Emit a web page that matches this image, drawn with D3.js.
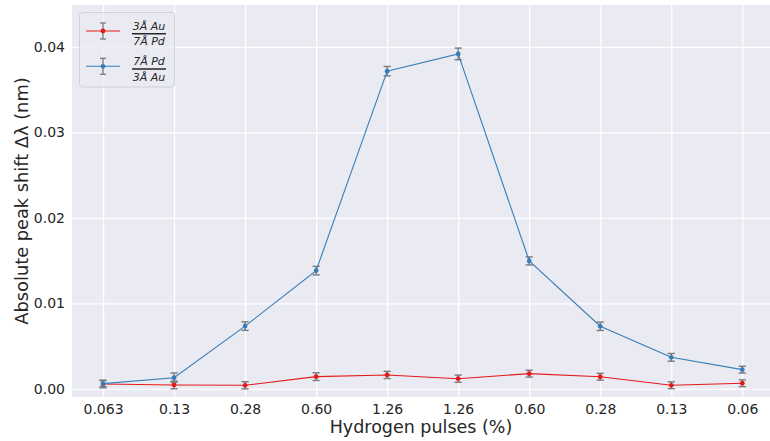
<!DOCTYPE html>
<html>
<head>
<meta charset="utf-8">
<script src="https://cdn.jsdelivr.net/npm/d3@7"></script>
<style>
  html, body { margin: 0; padding: 0; background: #ffffff; }
  svg { display: block; font-family: "DejaVu Sans", sans-serif; }
</style>
</head>
<body>
<svg id="chart" width="770" height="441"></svg>
<script>
// Hydrogen pulse sequence (up then down) used as x categories
const pulseLabels = ["0.063", "0.13", "0.28", "0.60", "1.26", "1.26", "0.60", "0.28", "0.13", "0.06"];

// Absolute peak shift (nm) for each multilayer stack
const auOverPd = [0.00058, 0.00047, 0.00043, 0.00144, 0.00164, 0.00120, 0.00179, 0.00143, 0.00043, 0.00067];
const auOverPdErr = [0.00045, 0.00045, 0.00042, 0.00045, 0.00042, 0.00042, 0.00040, 0.00040, 0.00040, 0.00040];

const pdOverAu = [0.00062, 0.00132, 0.00735, 0.01384, 0.03716, 0.03918, 0.01497, 0.00733, 0.00370, 0.00226];
const pdOverAuErr = [0.00035, 0.00055, 0.00050, 0.00050, 0.00055, 0.00068, 0.00047, 0.00049, 0.00045, 0.00040];

const yTicks = [0.00, 0.01, 0.02, 0.03, 0.04];

const series = [
  { num: "3Å Au", den: "7Å Pd", values: auOverPd, errors: auOverPdErr, color: "#e41a1c" },
  { num: "7Å Pd", den: "3Å Au", values: pdOverAu, errors: pdOverAuErr, color: "#377eb8" }
];

const svg = d3.select("#chart");
const plot = { left: 72, top: 5, right: 770, bottom: 397 };

const x = d3.scaleLinear().domain([-0.437, 9.39]).range([plot.left, plot.right]);
const y = d3.scaleLinear().domain([-0.00094, 0.0449]).range([plot.bottom, plot.top]);

// Axes background (seaborn darkgrid style)
svg.append("rect")
  .attr("x", plot.left).attr("y", plot.top)
  .attr("width", plot.right - plot.left).attr("height", plot.bottom - plot.top)
  .attr("fill", "#eaeaf2");

// Grid lines drawn through d3 axes
const xAxis = d3.axisBottom(x)
  .tickValues(d3.range(pulseLabels.length))
  .tickFormat(i => pulseLabels[i])
  .tickSize(-(plot.bottom - plot.top))
  .tickPadding(7);
const yAxis = d3.axisLeft(y)
  .tickValues(yTicks)
  .tickFormat(d3.format(".2f"))
  .tickSize(-(plot.right - plot.left))
  .tickPadding(7);

const gx = svg.append("g").attr("transform", `translate(0,${plot.bottom})`).call(xAxis);
const gy = svg.append("g").attr("transform", `translate(${plot.left},0)`).call(yAxis);
[gx, gy].forEach(g => {
  g.select(".domain").remove();
  g.selectAll(".tick line").attr("stroke", "#ffffff").attr("stroke-width", 1.3);
  g.selectAll(".tick text").attr("fill", "#262626").attr("font-size", 14)
    .attr("font-family", "DejaVu Sans, sans-serif");
});

// Series: error bars, connecting line, markers
const capW = 3.6;
series.forEach(s => {
  const g = svg.append("g");
  const eb = g.selectAll("g.eb").data(s.values).join("g").attr("class", "eb");
  eb.append("line")
    .attr("x1", (d, i) => x(i)).attr("x2", (d, i) => x(i))
    .attr("y1", (d, i) => y(d - s.errors[i])).attr("y2", (d, i) => y(d + s.errors[i]))
    .attr("stroke", "#7a7a7a").attr("stroke-width", 1.4);
  [-1, 1].forEach(sign => {
    eb.append("line")
      .attr("x1", (d, i) => x(i) - capW).attr("x2", (d, i) => x(i) + capW)
      .attr("y1", (d, i) => y(d + sign * s.errors[i])).attr("y2", (d, i) => y(d + sign * s.errors[i]))
      .attr("stroke", "#7a7a7a").attr("stroke-width", 1.4);
  });
  g.append("path")
    .datum(s.values)
    .attr("fill", "none").attr("stroke", s.color).attr("stroke-width", 1.1)
    .attr("d", d3.line().x((d, i) => x(i)).y(d => y(d)));
  g.selectAll("circle").data(s.values).join("circle")
    .attr("cx", (d, i) => x(i)).attr("cy", d => y(d)).attr("r", 2.4)
    .attr("fill", s.color);
});

// Axis titles
svg.append("text")
  .attr("x", (plot.left + plot.right) / 2).attr("y", 433)
  .attr("text-anchor", "middle").attr("font-size", 17.5).attr("fill", "#262626")
  .text("Hydrogen pulses (%)");
svg.append("text")
  .attr("transform", `translate(28,${(plot.top + plot.bottom) / 2}) rotate(-90)`)
  .attr("text-anchor", "middle").attr("font-size", 17.8).attr("fill", "#262626")
  .text("Absolute peak shift Δλ (nm)");

// Legend with stacked-fraction labels
const legend = svg.append("g");
legend.append("rect")
  .attr("x", 79.5).attr("y", 12.5).attr("width", 95).attr("height", 74.5)
  .attr("rx", 3).attr("fill", "#eaeaf2").attr("fill-opacity", 0.8)
  .attr("stroke", "#d0d0d8").attr("stroke-width", 1);

series.forEach((s, k) => {
  const cy = 31 + k * 35.3;
  const hx = 103;
  const g = legend.append("g");
  g.append("line").attr("x1", hx).attr("x2", hx).attr("y1", cy - 8).attr("y2", cy + 8)
    .attr("stroke", "#7a7a7a").attr("stroke-width", 1.3);
  [-8, 8].forEach(dy => g.append("line")
    .attr("x1", hx - 3).attr("x2", hx + 3).attr("y1", cy + dy).attr("y2", cy + dy)
    .attr("stroke", "#7a7a7a").attr("stroke-width", 1.3));
  g.append("line").attr("x1", 86).attr("x2", 120).attr("y1", cy).attr("y2", cy)
    .attr("stroke", s.color).attr("stroke-width", 1.1);
  g.append("circle").attr("cx", hx).attr("cy", cy).attr("r", 2.4).attr("fill", s.color);

  const fx = 149;
  g.append("text").attr("x", fx).attr("y", cy - 1.2)
    .attr("text-anchor", "middle").attr("font-size", 11).attr("font-style", "italic")
    .attr("fill", "#262626").text(s.num);
  g.append("line").attr("x1", 132).attr("x2", 166).attr("y1", cy + 2.7).attr("y2", cy + 2.7)
    .attr("stroke", "#262626").attr("stroke-width", 1.5);
  g.append("text").attr("x", fx).attr("y", cy + 14.2)
    .attr("text-anchor", "middle").attr("font-size", 11).attr("font-style", "italic")
    .attr("fill", "#262626").text(s.den);
});
</script>
</body>
</html>
